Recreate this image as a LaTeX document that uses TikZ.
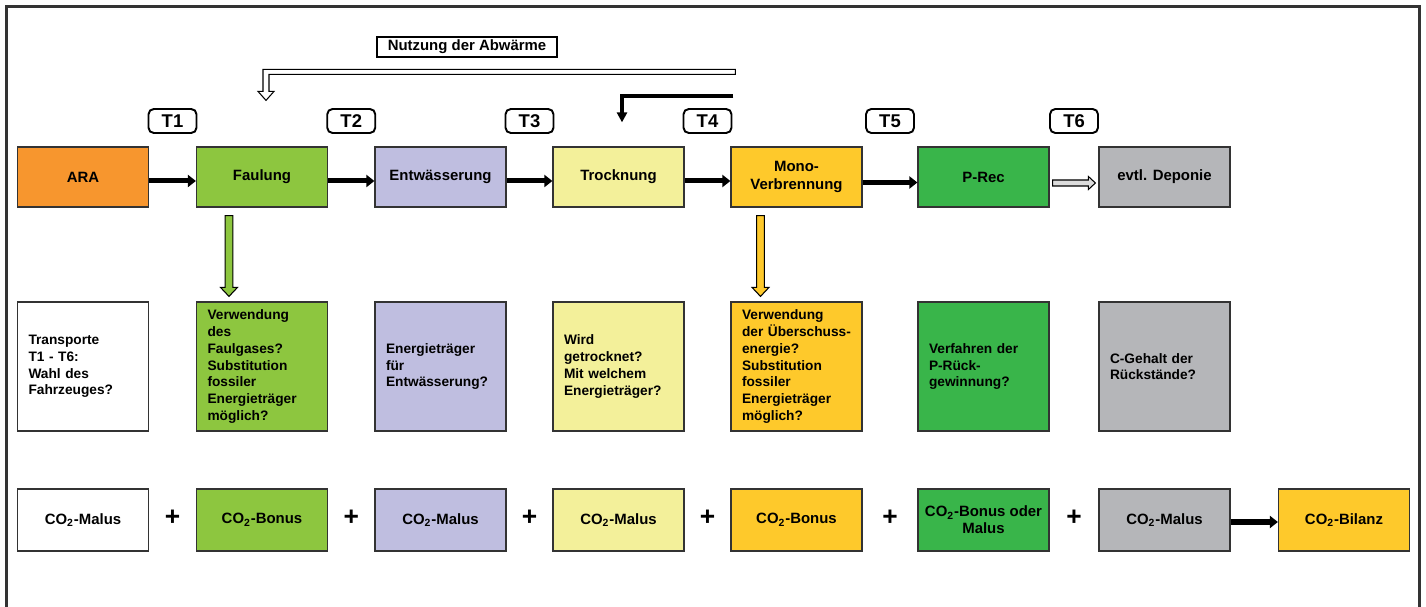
\documentclass[tikz,border=0pt]{standalone}
\usepackage{fontspec}
\setmainfont{Liberation Sans}
\usepackage{xcolor}
\usepackage{tikz}
\usetikzlibrary{calc,arrows.meta,positioning}
\definecolor{frame}{HTML}{333333}
\definecolor{ara}{HTML}{F7962E}
\definecolor{faul}{HTML}{8DC63F}
\definecolor{entw}{HTML}{BFBEE0}
\definecolor{trock}{HTML}{F3F09A}
\definecolor{mono}{HTML}{FEC92B}
\definecolor{prec}{HTML}{39B54A}
\definecolor{depo}{HTML}{B5B6B9}
\definecolor{pale}{HTML}{DCDCDC}
\tikzset{
  frameline/.style={draw=frame, line width=1.3pt},
  stage/.style={draw=frame, line width=0.7pt, minimum width=2.62cm, minimum height=1.2cm, inner sep=0pt, align=center, font=\fontsize{8.5}{9.8}\selectfont\bfseries},
  quest/.style={draw=frame, line width=0.7pt, text width=2.18cm, inner xsep=0.22cm, inner ysep=0pt, minimum height=2.58cm, align=left, font=\fontsize{7.8}{9.5}\selectfont\bfseries},
  bal/.style={stage, minimum height=1.24cm},
  tlab/.style={draw=black, line width=1.1pt, rounded corners=3pt, minimum width=0.96cm, minimum height=0.48cm, inner sep=0pt, font=\fontsize{10.5}{12}\selectfont\bfseries},
  note/.style={draw=black, line width=1.1pt, minimum width=3.6cm, minimum height=0.4cm, inner sep=0pt, font=\fontsize{8.5}{9.8}\selectfont\bfseries},
  plus/.style={inner sep=0pt, font=\fontsize{15}{15}\selectfont\bfseries},
  flow/.style={draw=black, line width=0.1cm, -{Triangle[length=0.16cm, width=0.24cm]}},
  back/.style={draw=black, line width=0.08cm, -{Triangle[length=0.2cm, width=0.2cm]}},
  hollow/.style={draw=black, line width=0.6pt, line join=miter},
}
\begin{document}
\begin{tikzpicture}[x=0.02cm, y=-0.02cm]
\useasboundingbox (0,0) rectangle (1426,607);
\clip (0,0) rectangle (1426,607);
\draw[frameline] (6.5,6.5) rectangle (1419.5,650);

% process chain
\node[stage, fill=ara]   (ara)   at (83,177)     {ARA};
\node[stage, fill=faul]  (faul)  at (262,177)    {Faulung};
\node[stage, fill=entw]  (entw)  at (440.5,177)  {Entwässerung};
\node[stage, fill=trock] (trock) at (618.5,177)  {Trocknung};
\node[stage, fill=mono]  (mono)  at (796.5,177)  {Mono-\\Verbrennung};
\node[stage, fill=prec]  (prec)  at (983.5,177)  {P-Rec};
\node[stage, fill=depo]  (depo)  at (1164.5,177) {evtl. Deponie};

% questions
\node[quest, fill=white] (qtrans) at (83,366.5)     {Transporte\\T1 - T6:\\Wahl des\\Fahrzeuges?};
\node[quest, fill=faul]  (qfaul)  at (262,366.5)    {Verwendung\\des\\Faulgases?\\Substitution\\fossiler\\Energieträger\\möglich?};
\node[quest, fill=entw]  (qentw)  at (440.5,366.5)  {Energieträger\\für\\Entwässerung?};
\node[quest, fill=trock] (qtrock) at (618.5,366.5)  {Wird\\getrocknet?\\Mit welchem\\Energieträger?};
\node[quest, fill=mono]  (qmono)  at (796.5,366.5)  {Verwendung\\der Überschuss-\\energie?\\Substitution\\fossiler\\Energieträger\\möglich?};
\node[quest, fill=prec]  (qprec)  at (983.5,366.5)  {Verfahren der\\P-Rück-\\gewinnung?};
\node[quest, fill=depo]  (qdepo)  at (1164.5,366.5) {C-Gehalt der\\Rückstände?};

% balance
\node[bal, fill=white] (cara)   at (83,520)     {CO\textsubscript{2}-Malus};
\node[bal, fill=faul]  (cfaul)  at (262,520)    {CO\textsubscript{2}-Bonus};
\node[bal, fill=entw]  (centw)  at (440.5,520)  {CO\textsubscript{2}-Malus};
\node[bal, fill=trock] (ctrock) at (618.5,520)  {CO\textsubscript{2}-Malus};
\node[bal, fill=mono]  (cmono)  at (796.5,520)  {CO\textsubscript{2}-Bonus};
\node[bal, fill=prec]  (cprec)  at (983.5,520)  {CO\textsubscript{2}-Bonus oder\\Malus};
\node[bal, fill=depo]  (cdepo)  at (1164.5,520) {CO\textsubscript{2}-Malus};
\node[bal, fill=mono]  (cbil)   at (1344,520)   {CO\textsubscript{2}-Bilanz};

% transports and plus signs
\foreach \a/\b/\i in {ara/faul/1,faul/entw/2,entw/trock/3,trock/mono/4,mono/prec/5,prec/depo/6}{
  \node[tlab] (t\i) at ($(\a.east)!0.5!(\b.west)+(0,-56)$) {T\i};
  \node[plus] (plus\i) at ($(c\a.east)!0.5!(c\b.west)+(0,-2)$) {+};
}

% flow arrows
\foreach \a/\b in {ara/faul,faul/entw,entw/trock,trock/mono}
  \draw[flow] ($(\a.east)+(0,4)$) -- ($(\b.west)+(0,4)$);
\draw[flow, line width=0.11cm] ($(mono.east)+(0,5.5)$) -- ($(prec.west)+(0,5.5)$);
\draw[flow, line width=0.12cm] ($(cdepo.east)+(0,2)$) -- ($(cbil.west)+(0,2)$);

% P-Rec to Deponie
\coordinate (hs) at ($(prec.east)+(3,6)$);
\coordinate (ht) at ($(depo.west)+(-3,6)$);
\draw[hollow, fill=pale] ($(hs)+(0,-3)$) -- ($(ht)+(-7,-3)$) -- ($(ht)+(-7,-6.5)$) -- (ht)
  -- ($(ht)+(-7,6.5)$) -- ($(ht)+(-7,3)$) -- ($(hs)+(0,3)$) -- cycle;

% down to the questions
\foreach \a/\d/\c in {faul/-33/faul,mono/-36/mono}{
  \coordinate (dtop) at ($(\a.south)+(\d,8)$);
  \coordinate (dtip) at ($(q\a.north)+(\d,-5)$);
  \draw[hollow, fill=\c] ($(dtop)+(-3.8,0)$) -- ($(dtip)+(-3.8,-9)$) -- ($(dtip)+(-8.5,-9)$) -- (dtip)
    -- ($(dtip)+(8.5,-9)$) -- ($(dtip)+(3.8,-9)$) -- ($(dtop)+(3.8,0)$) -- cycle;
}

% waste heat
\node[note] (abw) at (467,47) {Nutzung der Abwärme};
\coordinate (heat) at ($(mono.north west)+(5,-77)$);
\coordinate (htip) at ($(faul.north)+(4,-46)$);
\draw[hollow, fill=white] (heat) -- ($(htip)+(-3,-31)$) -- ($(htip)+(-3,-9)$) -- ($(htip)+(-8,-9)$) -- (htip)
  -- ($(htip)+(8,-9)$) -- ($(htip)+(3,-9)$) -- ($(htip)+(3,-26)$) -- ($(heat)+(0,5)$) -- cycle;
\draw[back] ($(mono.north west)+(3,-50)$) -| ($(trock.north)+(3.5,-24)$);
\end{tikzpicture}
\end{document}
